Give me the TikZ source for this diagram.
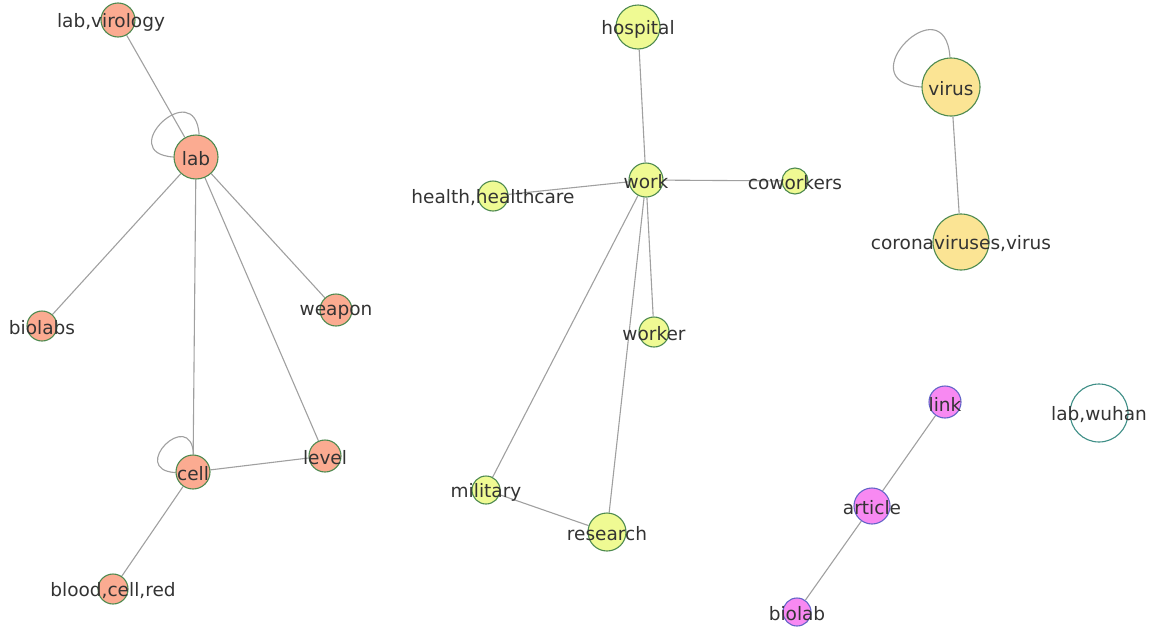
\documentclass[tikz,border=0pt]{standalone}
\usepackage{fontspec}
\setmainfont{DejaVu Sans}
\usetikzlibrary{positioning}
\pgfdeclarelayer{edges}
\pgfsetlayers{edges,main}

\definecolor{salmon}{HTML}{FBAB91}
\definecolor{lime}{HTML}{EFFA93}
\definecolor{sand}{HTML}{FBE494}
\definecolor{orchid}{HTML}{F889F2}
\definecolor{rimgreen}{HTML}{4E8A50}
\definecolor{rimblue}{HTML}{6464C8}
\definecolor{rimteal}{HTML}{3E8E86}
\definecolor{linkgray}{HTML}{A0A0A0}
\definecolor{labelgray}{HTML}{333333}

\begin{document}
\begin{tikzpicture}[x=1pt, y=-1pt,
  vertex/.style={circle, draw=rimgreen, line width=1.1pt, inner sep=0pt,
    minimum size=#1, label={[text=labelgray, font=\fontsize{18.5}{18.5}\selectfont, yshift=-2pt, xshift=\vshift]center:\vlabel}},
  lab node/.style={vertex=#1, fill=salmon},
  work node/.style={vertex=#1, fill=lime},
  virus node/.style={vertex=#1, fill=sand},
  link node/.style={vertex=#1, fill=orchid, draw=rimblue},
  lone node/.style={vertex=#1, fill=white, draw=rimteal},
  conn/.style={draw=linkgray, line width=1.1pt}]
\useasboundingbox (0,0) rectangle (1154,627);
\def\vshift{0pt}

\def\vlabel{lab,virology}\def\vshift{-7pt}\node[lab node=34] (labvir) at (118,20) {};
\def\vshift{0pt}
\def\vlabel{lab}\node[lab node=44] (lab) at (196,157) {};
\def\vlabel{biolabs}\node[lab node=30] (biolabs) at (42,326) {};
\def\vlabel{weapon}\node[lab node=32] (weapon) at (336,310) {};
\def\vlabel{cell}\node[lab node=34] (cell) at (193,472) {};
\def\vlabel{level}\node[lab node=32] (level) at (325,456) {};
\def\vlabel{blood,cell,red}\node[lab node=30] (blood) at (113,589) {};

\def\vlabel{hospital}\node[work node=44] (hospital) at (638,27) {};
\def\vlabel{work}\node[work node=34] (work) at (646,180) {};
\def\vlabel{health,healthcare}\node[work node=30] (health) at (493,196) {};
\def\vlabel{coworkers}\node[work node=26] (coworkers) at (795,181) {};
\def\vlabel{worker}\node[work node=30] (worker) at (654,332) {};
\def\vlabel{military}\node[work node=28] (military) at (486,490) {};
\def\vlabel{research}\node[work node=38] (research) at (607,532) {};

\def\vlabel{virus}\node[virus node=58] (virus) at (951,87) {};
\def\vlabel{coronaviruses,virus}\node[virus node=56] (corona) at (961,242) {};

\def\vlabel{link}\node[link node=32] (link) at (945,402) {};
\def\vlabel{article}\node[link node=36] (article) at (872,506) {};
\def\vlabel{biolab}\node[link node=28] (biolab) at (797,612) {};

\def\vlabel{lab,wuhan}\node[lone node=58] (wuhan) at (1099,413) {};

\begin{pgfonlayer}{edges}
\draw[conn] (labvir) -- (lab);
\draw[conn] (lab) -- (biolabs);
\draw[conn] (lab) -- (cell);
\draw[conn] (lab) -- (weapon);
\draw[conn] (lab) -- (level);
\draw[conn] (cell) -- (level);
\draw[conn] (cell) -- (blood);
\draw[conn] (lab.82) .. controls +(-4,-60) and +(-60,-4) .. (lab.180);
\draw[conn] (cell.88) .. controls +(-3,-48) and +(-48,-3) .. (cell.182);
\draw[conn] (hospital) -- (work);
\draw[conn] (work) -- (health);
\draw[conn] (work) -- (coworkers);
\draw[conn] (work) -- (worker);
\draw[conn] (work) -- (military);
\draw[conn] (work) -- (research);
\draw[conn] (military) -- (research);
\draw[conn] (virus) -- (corona);
\draw[conn] (virus.92) .. controls +(-5,-75) and +(-75,-5) .. (virus.180);
\draw[conn] (link) -- (article);
\draw[conn] (article) -- (biolab);
\end{pgfonlayer}
\end{tikzpicture}
\end{document}
